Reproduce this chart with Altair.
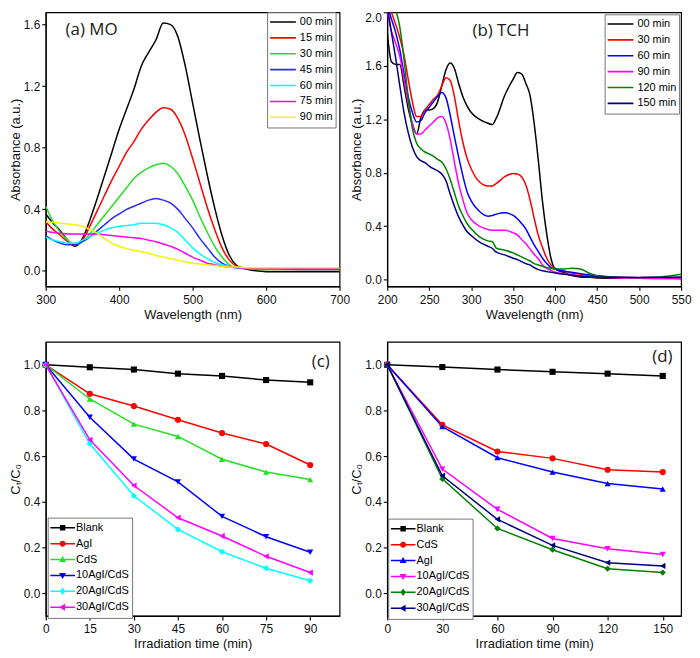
import altair as alt
import pandas as pd

FONT = "Liberation Sans"
TAG_FONT = "Open Sans"
W, H = 296, 276

# ---------------- (a) MO absorption spectra ----------------
mo_wavelength = [300, 310, 320, 330, 340, 350, 360, 370, 380, 390, 400, 410, 420, 430, 440, 450,
                 460, 470, 480, 490, 500, 510, 520, 530, 540, 550, 560, 570, 580, 590, 600, 650, 700]
mo_times = ["00 min", "15 min", "30 min", "45 min", "60 min", "75 min", "90 min"]
mo_colors = ["#000000", "#ff0000", "#22e022", "#2a2aff", "#00ffff", "#ff00ff", "#f5f500"]
mo_00 = [0.37, 0.31, 0.26, 0.20, 0.16, 0.21, 0.33, 0.47, 0.62, 0.77, 0.92, 1.05, 1.18, 1.33, 1.42, 1.50,
         1.61, 1.60, 1.52, 1.33, 1.09, 0.85, 0.62, 0.41, 0.23, 0.10, 0.035, 0.015, 0.005, 0.0, -0.005, -0.005, -0.005]
mo_15 = [0.32, 0.27, 0.23, 0.19, 0.17, 0.20, 0.29, 0.39, 0.49, 0.59, 0.68, 0.77, 0.84, 0.92, 0.98, 1.03,
         1.06, 1.05, 0.99, 0.88, 0.73, 0.57, 0.41, 0.27, 0.15, 0.07, 0.03, 0.02, 0.015, 0.012, 0.01, 0.01, 0.01]
mo_30 = [0.42, 0.32, 0.25, 0.20, 0.17, 0.19, 0.24, 0.30, 0.36, 0.42, 0.48, 0.54, 0.60, 0.64, 0.67, 0.69,
         0.70, 0.68, 0.63, 0.55, 0.46, 0.35, 0.25, 0.16, 0.09, 0.04, 0.02, 0.015, 0.012, 0.01, 0.01, 0.01, 0.01]
mo_45 = [0.23, 0.20, 0.18, 0.17, 0.17, 0.19, 0.22, 0.26, 0.30, 0.34, 0.37, 0.40, 0.42, 0.44, 0.46, 0.47,
         0.46, 0.44, 0.40, 0.34, 0.28, 0.21, 0.15, 0.09, 0.05, 0.03, 0.02, 0.017, 0.015, 0.015, 0.015, 0.01, 0.01]
mo_60 = [0.22, 0.20, 0.19, 0.18, 0.18, 0.20, 0.22, 0.245, 0.265, 0.28, 0.29, 0.295, 0.30, 0.31, 0.31, 0.31,
         0.30, 0.28, 0.25, 0.20, 0.15, 0.11, 0.08, 0.055, 0.04, 0.03, 0.02, 0.018, 0.016, 0.015, 0.015, 0.015, 0.015]
mo_75 = [0.26, 0.25, 0.245, 0.24, 0.24, 0.24, 0.24, 0.24, 0.235, 0.23, 0.225, 0.22, 0.215, 0.21, 0.20, 0.19,
         0.175, 0.16, 0.14, 0.115, 0.09, 0.07, 0.05, 0.04, 0.03, 0.025, 0.02, 0.018, 0.016, 0.015, 0.015, 0.015, 0.015]
mo_90 = [0.32, 0.315, 0.31, 0.305, 0.30, 0.29, 0.27, 0.245, 0.21, 0.18, 0.16, 0.145, 0.135, 0.125, 0.115, 0.10,
         0.09, 0.08, 0.07, 0.06, 0.05, 0.045, 0.04, 0.035, 0.03, 0.025, 0.025, 0.022, 0.02, 0.02, 0.02, 0.02, 0.02]

# ---------------- (b) TCH absorption spectra ----------------
tch_wavelength = [200, 205, 210, 215, 220, 225, 230, 235, 240, 245, 250, 255, 260, 265, 270, 275, 280, 285,
                  290, 295, 300, 310, 320, 325, 330, 340, 350, 355, 360, 365, 370, 375, 380, 385, 390, 395,
                  400, 410, 420, 430, 440, 450, 475, 500, 525, 550]
tch_times = ["00 min", "30 min", "60 min", "90 min", "120 min", "150 min"]
tch_colors = ["#000000", "#ff0000", "#0000ff", "#ff00ff", "#008000", "#000080"]
tch_00 = [1.85, 1.63, 1.61, 1.61, 1.45, 1.28, 1.16, 1.09, 1.21, 1.27, 1.27, 1.28, 1.33, 1.45, 1.57, 1.62, 1.58, 1.47,
          1.37, 1.30, 1.25, 1.20, 1.17, 1.16, 1.21, 1.38, 1.50, 1.55, 1.54, 1.47, 1.38, 1.17, 0.89, 0.58, 0.34, 0.16,
          0.08, 0.055, 0.03, 0.02, 0.017, 0.013, 0.01, 0.01, 0.01, 0.01]
tch_30 = [2.1, 2.0, 1.91, 1.81, 1.68, 1.50, 1.33, 1.22, 1.22, 1.27, 1.31, 1.35, 1.38, 1.45, 1.51, 1.49, 1.37, 1.19,
          1.03, 0.91, 0.83, 0.73, 0.70, 0.70, 0.72, 0.77, 0.795, 0.79, 0.77, 0.71, 0.60, 0.46, 0.33, 0.24, 0.16, 0.11,
          0.085, 0.065, 0.05, 0.04, 0.03, 0.025, 0.018, 0.015, 0.012, 0.01]
tch_60 = [2.05, 1.95, 1.85, 1.72, 1.54, 1.37, 1.25, 1.18, 1.19, 1.25, 1.29, 1.33, 1.37, 1.40, 1.36, 1.23, 1.07, 0.92,
          0.78, 0.66, 0.59, 0.51, 0.475, 0.48, 0.49, 0.50, 0.48, 0.455, 0.42, 0.38, 0.32, 0.26, 0.21, 0.16, 0.12, 0.09,
          0.08, 0.065, 0.055, 0.045, 0.037, 0.03, 0.018, 0.015, 0.015, 0.015]
tch_90 = [2.0, 1.86, 1.77, 1.67, 1.50, 1.32, 1.17, 1.09, 1.09, 1.12, 1.15, 1.18, 1.21, 1.22, 1.17, 1.05, 0.88, 0.72,
          0.60, 0.50, 0.45, 0.40, 0.375, 0.37, 0.37, 0.37, 0.35, 0.335, 0.30, 0.27, 0.23, 0.19, 0.155, 0.11, 0.085, 0.07,
          0.056, 0.045, 0.037, 0.03, 0.024, 0.02, 0.013, 0.01, 0.007, 0.005]
tch_120 = [2.15, 2.1, 2.02, 1.89, 1.65, 1.36, 1.13, 1.02, 0.98, 0.955, 0.94, 0.925, 0.90, 0.88, 0.83, 0.75, 0.65, 0.55,
           0.48, 0.42, 0.38, 0.32, 0.29, 0.285, 0.235, 0.22, 0.20, 0.185, 0.17, 0.155, 0.14, 0.12, 0.11, 0.10, 0.09, 0.085,
           0.08, 0.08, 0.085, 0.08, 0.05, 0.03, 0.017, 0.015, 0.02, 0.04]
tch_150 = [2.05, 1.85, 1.66, 1.45, 1.25, 1.10, 0.99, 0.92, 0.89, 0.875, 0.85, 0.83, 0.815, 0.79, 0.74, 0.64, 0.55, 0.47,
           0.41, 0.36, 0.33, 0.28, 0.25, 0.235, 0.205, 0.185, 0.16, 0.15, 0.135, 0.12, 0.11, 0.09, 0.075, 0.066, 0.06, 0.055,
           0.05, 0.04, 0.033, 0.027, 0.022, 0.02, 0.017, 0.017, 0.018, 0.02]

# ---------------- (c) MO degradation ----------------
c_time = [0, 15, 30, 45, 60, 75, 90]
c_samples = ["Blank", "AgI", "CdS", "10AgI/CdS", "20AgI/CdS", "30AgI/CdS"]
c_colors = ["#000000", "#ff0000", "#22e022", "#0000ff", "#00ffff", "#ff00ff"]
c_shapes = ["square", "circle", "triangle-up", "triangle-down", "diamond", "triangle-left"]
c_blank = [1.0, 0.989, 0.979, 0.961, 0.951, 0.933, 0.923]
c_agi = [1.0, 0.873, 0.819, 0.759, 0.701, 0.653, 0.561]
c_cds = [1.0, 0.85, 0.74, 0.686, 0.586, 0.53, 0.497]
c_10 = [1.0, 0.77, 0.587, 0.487, 0.336, 0.247, 0.179]
c_20 = [1.0, 0.654, 0.426, 0.279, 0.181, 0.109, 0.054]
c_30 = [1.0, 0.671, 0.471, 0.33, 0.25, 0.161, 0.09]

# ---------------- (d) TCH degradation ----------------
d_time = [0, 30, 60, 90, 120, 150]
d_samples = ["Blank", "CdS", "AgI", "10AgI/CdS", "20AgI/CdS", "30AgI/CdS"]
d_colors = ["#000000", "#ff0000", "#0000ff", "#ff00ff", "#008000", "#000080"]
d_shapes = ["square", "circle", "triangle-up", "triangle-down", "diamond", "triangle-left"]
d_blank = [1.0, 0.99, 0.979, 0.969, 0.961, 0.951]
d_cds = [1.0, 0.737, 0.62, 0.59, 0.54, 0.53]
d_agi = [1.0, 0.729, 0.593, 0.53, 0.48, 0.456]
d_10 = [1.0, 0.543, 0.367, 0.239, 0.194, 0.169]
d_20 = [1.0, 0.5, 0.283, 0.19, 0.107, 0.09]
d_30 = [1.0, 0.514, 0.323, 0.209, 0.133, 0.119]

# legend symbols: a line with the marker in the middle (unit-square SVG paths)
LINE = "M-1,-0.06H1V0.06H-1Z"
LEGEND_PATH = {
    "square": LINE + "M-0.22,-0.22H0.22V0.22H-0.22Z",
    "circle": LINE + "M-0.24,0A0.24,0.24,0,1,1,0.24,0A0.24,0.24,0,1,1,-0.24,0Z",
    "triangle-up": LINE + "M0,-0.28L0.28,0.2L-0.28,0.2Z",
    "triangle-down": LINE + "M0,0.28L-0.28,-0.2L0.28,-0.2Z",
    "diamond": LINE + "M0,-0.3L0.22,0L0,0.3L-0.22,0Z",
    "triangle-left": LINE + "M-0.28,0L0.2,-0.28L0.2,0.28Z",
}
MARK_SIZE = {"square": 38, "circle": 40, "triangle-up": 45, "triangle-down": 45,
             "diamond": 45, "triangle-left": 45}


def spectra_panel(wl, names, curves, colors, xdom, xticks, ydom, yticks, tag, tag_xy, leg_xy, flush_y=False):
    rows = []
    for name, vals in zip(names, curves):
        for w, v in zip(wl, vals):
            rows.append({"wl": w, "A": v, "series": name})
    df = pd.DataFrame(rows)
    x = alt.X("wl:Q", scale=alt.Scale(domain=xdom, nice=False, zero=False),
              axis=alt.Axis(values=xticks, title="Wavelength (nm)", format="d"))
    y = alt.Y("A:Q", scale=alt.Scale(domain=ydom, nice=False, zero=False),
              axis=alt.Axis(values=yticks, format=".1f", title="Absorbance (a.u.)", labelFlush=flush_y))
    lines = alt.Chart(df).mark_line(strokeWidth=1.5, clip=True, interpolate="monotone").encode(
        x=x, y=y,
        color=alt.Color("series:N", sort=names, scale=alt.Scale(domain=names, range=colors),
                        legend=alt.Legend(orient="none", legendX=leg_xy[0], legendY=leg_xy[1], title=None,
                                          symbolType="stroke", symbolSize=676, symbolStrokeWidth=1.6,
                                          clipHeight=15.5, rowPadding=0, labelOffset=3, padding=2,
                                          strokeColor="#777777", fillColor="white", labelFont=FONT,
                                          labelFontSize=11, labelColor="black")),
        detail="series:N")
    tag_df = pd.DataFrame({"wl": [tag_xy[0]], "A": [tag_xy[1]], "t": [tag]})
    text = alt.Chart(tag_df).mark_text(align="left", baseline="alphabetic", font=TAG_FONT,
                                       fontSize=17, color="#1a1a1a").encode(x="wl:Q", y="A:Q", text="t:N")
    return alt.layer(lines, text).properties(width=W, height=H)


def degradation_panel(time, names, curves, colors, shapes, xdom, xticks, tag, tag_xy, leg_xy):
    rows = []
    for name, vals in zip(names, curves):
        for t, v in zip(time, vals):
            rows.append({"t": t, "c": v, "series": name, "series2": name})
    df = pd.DataFrame(rows)
    base = alt.Chart(df)
    x = alt.X("t:Q", scale=alt.Scale(domain=xdom, nice=False, zero=False),
              axis=alt.Axis(values=xticks, title="Irradiation time (min)", format="d"))
    y = alt.Y("c:Q", scale=alt.Scale(domain=[-0.1, 1.1], nice=False, zero=False),
              axis=alt.Axis(values=[0, 0.2, 0.4, 0.6, 0.8, 1.0], format=".1f", title="Cₜ/C₀"))
    col = alt.Color("series:N", scale=alt.Scale(domain=names, range=colors), legend=None)
    lines = base.mark_line(strokeWidth=1.5).encode(x=x, y=y, color=col)
    pts = base.mark_point(filled=True, opacity=1).encode(
        x=x, y=y, color=col,
        shape=alt.Shape("series:N", scale=alt.Scale(domain=names, range=shapes), legend=None),
        size=alt.Size("series:N", scale=alt.Scale(domain=names, range=[MARK_SIZE[s] for s in shapes]),
                      legend=None))
    leg_kw = dict(orient="none", legendX=leg_xy[0], legendY=leg_xy[1], title=None,
                  symbolSize=625, symbolStrokeWidth=0, clipHeight=15.5, rowPadding=0,
                  labelOffset=1, padding=2.5, strokeColor="#777777", fillColor="white",
                  labelFont=FONT, labelFontSize=11, labelColor="black", symbolOpacity=1)
    leg = base.transform_filter("false").mark_point(filled=True, size=625, opacity=1).encode(
        x=x, y=y,
        color=alt.Color("series2:N", scale=alt.Scale(domain=names, range=colors),
                        legend=alt.Legend(**leg_kw)),
        shape=alt.Shape("series2:N", scale=alt.Scale(domain=names, range=[LEGEND_PATH[s] for s in shapes]),
                        legend=alt.Legend(**leg_kw)))
    tag_df = pd.DataFrame({"t": [tag_xy[0]], "c": [tag_xy[1]], "lab": [tag]})
    text = alt.Chart(tag_df).mark_text(align="left", baseline="alphabetic", font=TAG_FONT,
                                       fontSize=17, color="#1a1a1a").encode(x="t:Q", y="c:Q", text="lab:N")
    return alt.layer(lines, pts, leg, text).resolve_scale(
        color="independent", shape="independent", size="independent").properties(width=W, height=H)


pa = spectra_panel(mo_wavelength, mo_times, [mo_00, mo_15, mo_30, mo_45, mo_60, mo_75, mo_90], mo_colors,
                   [300, 700], [300, 350, 400, 450, 500, 550, 600, 650, 700],
                   [-0.1, 1.68], [0.0, 0.4, 0.8, 1.2, 1.6], "(a) MO", (327, 1.53), (223, 0))
pb = spectra_panel(tch_wavelength, tch_times, [tch_00, tch_30, tch_60, tch_90, tch_120, tch_150], tch_colors,
                   [200, 550], [200, 250, 300, 350, 400, 450, 500, 550],
                   [-0.05, 2.0], [0.0, 0.4, 0.8, 1.2, 1.6, 2.0], "(b) TCH", (301.5, 1.82), (219, 2),
                   flush_y=True)
pc = degradation_panel(c_time, c_samples, [c_blank, c_agi, c_cds, c_10, c_20, c_30], c_colors, c_shapes,
                       [0, 100], [0, 15, 30, 45, 60, 75, 90], "(c)", (90.5, 0.99), (2, 177))
pd_ = degradation_panel(d_time, d_samples, [d_blank, d_cds, d_agi, d_10, d_20, d_30], d_colors, d_shapes,
                        [0, 160], [0, 30, 60, 90, 120, 150], "(d)", (144.3, 1.013), (1, 178))

chart = alt.concat(pa, pb, pc, pd_, columns=2, spacing={"row": 56, "column": 48}, bounds="flush").resolve_scale(
    color="independent", shape="independent", size="independent"
).properties(
    padding={"left": 0, "top": 0, "right": 0, "bottom": 0}
).configure_view(
    stroke="black", strokeWidth=1.2
).configure_axis(
    grid=False, domainColor="black", domainWidth=1.2, tickColor="black", tickWidth=1.1, tickSize=4,
    labelFont=FONT, labelFontSize=12, labelColor="#111111", labelPadding=2, labelFlush=False,
    titleFont=FONT, titleFontSize=13, titleFontWeight="normal", titleColor="#111111", titlePadding=2
).configure_axisX(
    labelPadding=4, titlePadding=3
).configure_axisY(
    titlePadding=1
)

chart.save("out.html", embed_options={"renderer": "svg", "actions": False})
